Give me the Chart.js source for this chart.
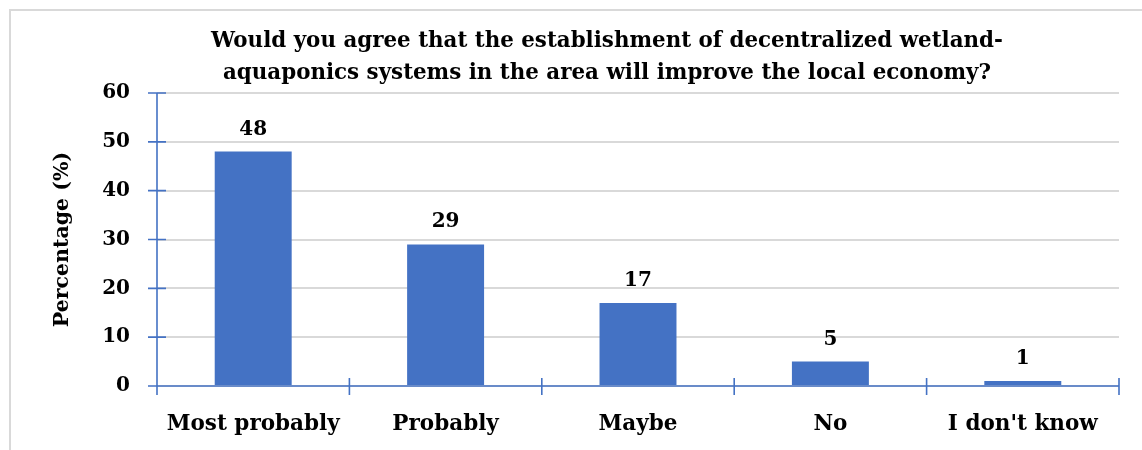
<!DOCTYPE html>
<html>
<head>
<meta charset="utf-8">
<script src="https://cdn.jsdelivr.net/npm/chart.js@4"></script>
<style>
  html, body { margin: 0; padding: 0; background: #fff; }
  #wrap { width: 1142px; height: 450px; }
</style>
</head>
<body>
<div id="wrap"><canvas id="chart"></canvas></div>
<script>
const titleLines = [
  "Would you agree that the establishment of decentralized wetland-",
  "aquaponics systems in the area will improve the local economy?"
];
const categories = ["Most probably", "Probably", "Maybe", "No", "I don't know"];
const percentages = [48, 29, 17, 5, 1];
const yTicks = [0, 10, 20, 30, 40, 50, 60];

const BLUE = "#4472C4";
const GRID = "#d9d9d9";
const FONT = "'DejaVu Serif', 'Liberation Serif', serif";

// frame round the chart, open on the right and bottom, plus the two-line heading
const framePlugin = {
  id: "frame",
  beforeDraw(chart) {
    const ctx = chart.ctx;
    ctx.save();
    ctx.strokeStyle = GRID;
    ctx.lineWidth = 2;
    ctx.strokeRect(10, 10, chart.width + 20, chart.height + 20);
    ctx.fillStyle = "#000";
    ctx.font = "bold 21.4px " + FONT;
    ctx.textAlign = "center";
    ctx.textBaseline = "alphabetic";
    titleLines.forEach((line, i) => {
      ctx.fillText(line, 607, 47 + i * 32);
    });
    ctx.restore();
  },
};

// axis lines with tick marks that cross them
const axesPlugin = {
  id: "crossAxes",
  afterDatasetsDraw(chart) {
    const ctx = chart.ctx;
    const x = chart.scales.x;
    const y = chart.scales.y;
    const area = chart.chartArea;
    ctx.save();
    ctx.strokeStyle = BLUE;
    ctx.lineWidth = 1.6;
    ctx.beginPath();
    ctx.moveTo(area.left, area.top);
    ctx.lineTo(area.left, area.bottom);
    ctx.moveTo(area.left, area.bottom);
    ctx.lineTo(area.right, area.bottom);
    yTicks.forEach((v) => {
      const py = y.getPixelForValue(v);
      ctx.moveTo(area.left - 9, py);
      ctx.lineTo(area.left + 9, py);
    });
    const step = (area.right - area.left) / categories.length;
    for (let i = 0; i <= categories.length; i++) {
      const px = x.getPixelForValue(i) - step / 2;
      ctx.moveTo(px, area.bottom - 8);
      ctx.lineTo(px, area.bottom + 9);
    }
    ctx.stroke();
    ctx.restore();
  },
};

// value above each bar
const valueLabels = {
  id: "valueLabels",
  afterDatasetsDraw(chart) {
    const ctx = chart.ctx;
    const meta = chart.getDatasetMeta(0);
    ctx.save();
    ctx.fillStyle = "#000";
    ctx.font = "bold 20px " + FONT;
    ctx.textAlign = "center";
    ctx.textBaseline = "alphabetic";
    meta.data.forEach((bar, i) => {
      ctx.fillText(String(percentages[i]), bar.x, bar.y - 17);
    });
    ctx.restore();
  },
};

new Chart(document.getElementById("chart"), {
  type: "bar",
  data: {
    labels: categories,
    datasets: [
      {
        data: percentages,
        backgroundColor: BLUE,
        borderWidth: 0,
        barPercentage: 0.4,
        categoryPercentage: 1,
      },
    ],
  },
  options: {
    responsive: true,
    maintainAspectRatio: false,
    animation: false,
    layout: { padding: { left: 10, right: 23, top: 93, bottom: 0 } },
    plugins: {
      legend: { display: false },
      tooltip: { enabled: false },
      title: { display: false },
    },
    scales: {
      x: {
        grid: { display: false },
        border: { display: false },
        ticks: {
          color: "#000",
          font: { family: FONT, size: 21.5, weight: "bold" },
          padding: 18,
          maxRotation: 0,
        },
        afterFit(scale) {
          scale.height = 64;
        },
      },
      y: {
        min: 0,
        max: 60,
        afterBuildTicks(scale) {
          scale.ticks = yTicks.map((v) => ({ value: v }));
        },
        grid: { color: GRID, lineWidth: 2, drawTicks: false },
        border: { display: false },
        ticks: {
          color: "#000",
          font: { family: FONT, size: 20, weight: "bold" },
          padding: 27,
        },
        title: {
          display: true,
          text: "Percentage (%)",
          color: "#000",
          font: { family: FONT, size: 20.5, weight: "bold" },
          padding: { top: 40, bottom: 0 },
        },
        afterFit(scale) {
          scale.width = 147;
        },
      },
    },
  },
  plugins: [framePlugin, axesPlugin, valueLabels],
});
</script>
</body>
</html>
